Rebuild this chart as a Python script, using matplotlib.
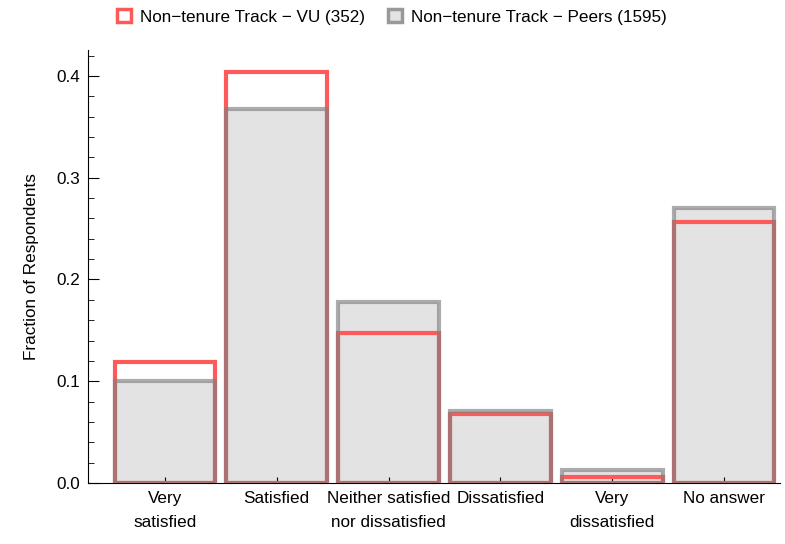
import matplotlib
matplotlib.use("Agg")
import matplotlib.pyplot as plt
from matplotlib.patches import Patch
from matplotlib.ticker import MultipleLocator

plt.rcParams['font.family'] = ['Liberation Sans', 'DejaVu Sans']

categories = ["Very\nsatisfied", "Satisfied", "Neither satisfied\nnor dissatisfied",
              "Dissatisfied", "Very\ndissatisfied", "No answer"]
vu = [0.119, 0.404, 0.147, 0.068, 0.006, 0.256]
peers = [0.100, 0.368, 0.178, 0.071, 0.013, 0.270]
vu_label = "Non\u2212tenure Track \u2212 VU (352)"
peers_label = "Non\u2212tenure Track \u2212 Peers (1595)"

red = "#ff5a5a"
gray_edge = "#808080"
gray_fill = "#e3e3e3"
fs = 12.3

fig = plt.figure(figsize=(7.85, 5.44), dpi=100)
ax = fig.add_axes([0.1121, 0.1121, 0.8815, 0.796])

x = list(range(1, len(categories) + 1))
w = 0.9

# gray fill first, then red outlines, then gray outlines on top
ax.bar(x, peers, width=w, color=gray_fill, edgecolor="none", zorder=1)
ax.bar(x, vu, width=w, color="none", edgecolor=red, linewidth=3, zorder=2)
ax.bar(x, peers, width=w, color="none", edgecolor=gray_edge, linewidth=3,
       alpha=0.65, zorder=3)

ax.set_xlim(0.3125, 6.5)
ax.set_ylim(0, 0.4255)
ax.set_xticks(x)
ax.set_xticklabels(categories, fontsize=fs, linespacing=1.75)
ax.yaxis.set_minor_locator(MultipleLocator(0.02))
ax.set_yticks([0, 0.1, 0.2, 0.3, 0.4])
ax.set_yticklabels(["0.0", "0.1", "0.2", "0.3", "0.4"], fontsize=fs)
ax.tick_params(axis="y", which="major", direction="in", length=8, width=0.8, pad=6)
ax.tick_params(axis="y", which="minor", direction="in", length=4.5, width=0.6)
ax.tick_params(axis="x", which="major", direction="in", length=4, width=0.8, pad=6)
for s in ["top", "right"]:
    ax.spines[s].set_visible(False)
for s in ["left", "bottom"]:
    ax.spines[s].set_linewidth(0.8)
ax.set_ylabel("Fraction of Respondents", fontsize=fs, labelpad=12)

handles = [Patch(facecolor="white", edgecolor=red, linewidth=2.5, label=vu_label),
           Patch(facecolor=gray_fill, edgecolor="#999999", linewidth=2.5, label=peers_label)]
fig.legend(handles=handles, loc="upper left", bbox_to_anchor=(0.129, 1.012), ncol=2,
           frameon=False, fontsize=fs, handlelength=0.85, handleheight=0.85,
           columnspacing=1.35, handletextpad=0.5)

fig.savefig("out.png", dpi=100)
